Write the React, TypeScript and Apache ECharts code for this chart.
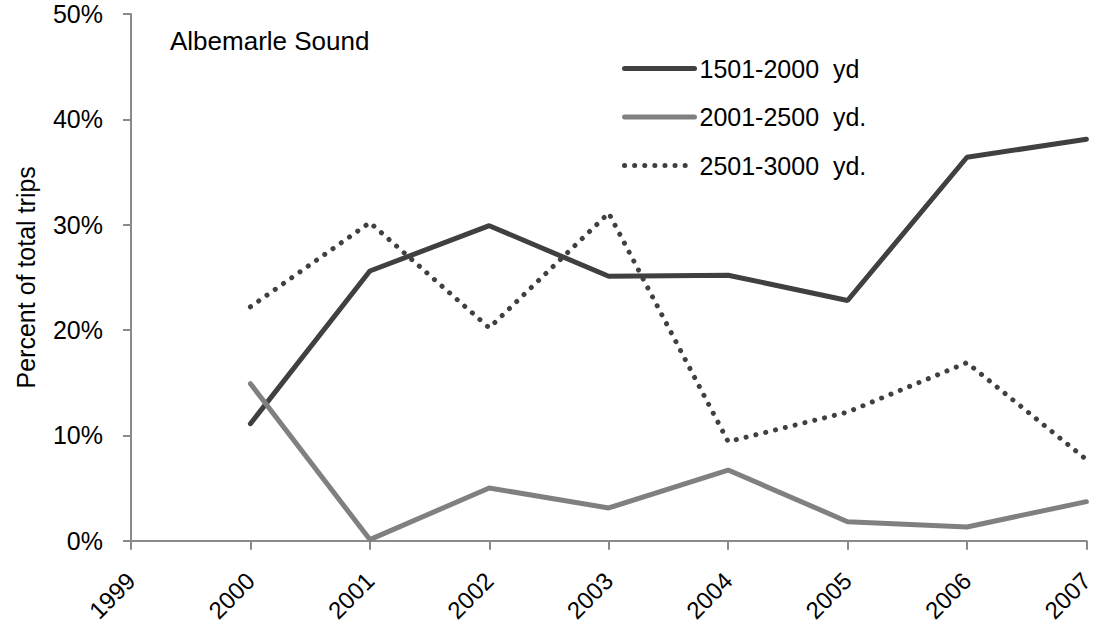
import React, { useEffect, useRef } from "react";
import * as echarts from "echarts";

const years = ["1999", "2000", "2001", "2002", "2003", "2004", "2005", "2006", "2007"];
const seriesNames = ["1501-2000  yd", "2001-2500  yd.", "2501-3000  yd."];
const s1501 = [null, 11.1, 25.6, 29.9, 25.1, 25.2, 22.8, 36.4, 38.1];
const s2001 = [null, 14.9, 0.1, 5.0, 3.1, 6.7, 1.8, 1.3, 3.7];
const s2501 = [null, 22.2, 30.2, 20.2, 31.1, 9.4, 12.2, 16.9, 7.7];
const yTicks = { min: 0, max: 50, interval: 10 };
const chartTitle = "Albemarle Sound";
const yName = "Percent of total trips";

const FONT = "'Liberation Sans', Arial, sans-serif";

export default function App() {
  const ref = useRef<HTMLDivElement>(null);
  useEffect(() => {
    if (!ref.current) return;
    const chart = echarts.init(ref.current, undefined, { renderer: "svg" });
    chart.setOption({
      animation: false,
      backgroundColor: "#ffffff",
      textStyle: { fontFamily: FONT },
      grid: { left: 131, right: 1, top: 14, bottom: 84, containLabel: false },
      legend: {
        orient: "vertical",
        left: 622,
        top: 56,
        padding: 0,
        itemWidth: 70,
        itemHeight: 14,
        itemGap: 23.5,
        itemStyle: { opacity: 0 },
        lineStyle: { width: "inherit", type: "inherit", cap: "round" },
        textStyle: { fontFamily: FONT, fontSize: 25, color: "#000" },
        data: seriesNames,
      },
      graphic: [
        {
          type: "text",
          x: 170,
          y: 41,
          style: {
            text: chartTitle,
            fontFamily: FONT,
            fontSize: 26,
            fill: "#000",
            verticalAlign: "middle",
            align: "left",
          },
        },
      ],
      xAxis: {
        type: "category",
        data: years,
        boundaryGap: false,
        axisLine: { show: true, lineStyle: { color: "#8a8a8a", width: 2 } },
        axisTick: { show: true, length: 9, lineStyle: { color: "#8a8a8a", width: 2 } },
        axisLabel: {
          rotate: 45,
          margin: 36,
          fontSize: 24,
          fontFamily: FONT,
          color: "#000",
          interval: 0,
        },
        splitLine: { show: false },
      },
      yAxis: {
        type: "value",
        min: yTicks.min,
        max: yTicks.max,
        interval: yTicks.interval,
        name: yName,
        nameLocation: "middle",
        nameRotate: 90,
        nameGap: 93,
        nameTextStyle: { fontFamily: FONT, fontSize: 25, color: "#000" },
        axisLine: { show: true, lineStyle: { color: "#8a8a8a", width: 2 } },
        axisTick: { show: true, length: 8, lineStyle: { color: "#8a8a8a", width: 2 } },
        axisLabel: {
          formatter: "{value}%",
          margin: 28,
          fontSize: 25,
          fontFamily: FONT,
          color: "#000",
          padding: [6, 0, 0, 0],
        },
        splitLine: { show: false },
      },
      series: [
        {
          name: seriesNames[0],
          type: "line",
          data: s1501,
          symbol: "none",
          color: "#404040",
          lineStyle: { color: "#404040", width: 5, cap: "round" },
        },
        {
          name: seriesNames[1],
          type: "line",
          data: s2001,
          symbol: "none",
          color: "#808080",
          lineStyle: { color: "#808080", width: 5, cap: "round" },
        },
        {
          name: seriesNames[2],
          type: "line",
          data: s2501,
          symbol: "none",
          color: "#404040",
          lineStyle: { color: "#404040", width: 5, type: [0.1, 10], cap: "round" },
        },
      ],
    });
    return () => chart.dispose();
  }, []);
  return (
    <div
      ref={ref}
      style={{ position: "absolute", left: 0, top: 0, width: 1097, height: 625, background: "#fff" }}
    />
  );
}
